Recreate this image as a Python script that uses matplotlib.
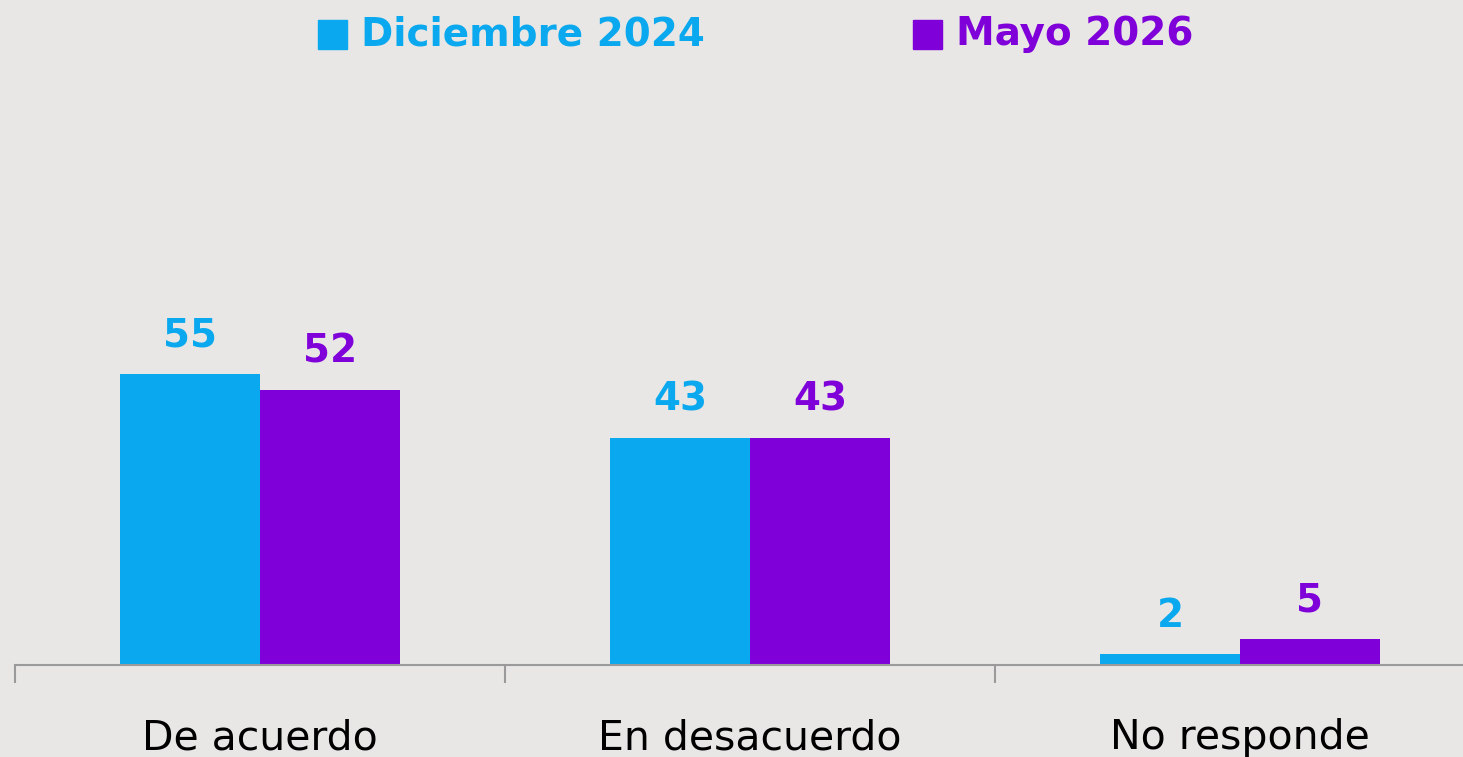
import matplotlib.pyplot as plt
import numpy as np

categories = ['De acuerdo', 'En desacuerdo', 'No responde']
dic_2024 = [55, 43, 2]
may_2026 = [52, 43, 5]
series_names = ['Diciembre 2024', 'Mayo 2026']

blue = '#0AA8EE'
purple = '#7F00D9'
bg = '#E8E7E5'
grey = '#9A9A9A'

plt.rcParams['font.family'] = ['DejaVu Sans']

fig = plt.figure(figsize=(14.63, 7.57), dpi=100)
fig.patch.set_facecolor(bg)
# axes: from x=15px to right edge, baseline 92px above bottom
ax = fig.add_axes([15 / 1463, 92 / 757, 1 - 15 / 1463, 665 / 757])
ax.set_facecolor(bg)

x = np.arange(len(categories))
w = 0.2857
b1 = ax.bar(x - w / 2, dic_2024, w, color=blue)
b2 = ax.bar(x + w / 2, may_2026, w, color=purple)

ax.set_xlim(-0.5, -0.5 + 1448 / 490)
ax.set_ylim(0, 665 / 5.29)

for rects, vals, c in [(b1, dic_2024, blue), (b2, may_2026, purple)]:
    for r, v in zip(rects, vals):
        ax.annotate(str(v), (r.get_x() + r.get_width() / 2, v),
                    xytext=(0, 19.5), textcoords='offset points',
                    ha='center', va='baseline', fontsize=28,
                    fontweight='bold', color=c)

for i, cat in enumerate(categories):
    ax.annotate(cat, (i, 0), xytext=(0, -60.5), textcoords='offset points',
                ha='center', va='baseline', fontsize=29.5, color='black')

for s in ['top', 'right', 'left']:
    ax.spines[s].set_visible(False)
ax.spines['bottom'].set_color(grey)
ax.spines['bottom'].set_linewidth(1.5)
ax.set_yticks([])
ax.set_xticks([-0.5, 0.5, 1.5])
ax.set_xticklabels([])
ax.tick_params(axis='x', length=13, width=1.5, color=grey)

# legend drawn by hand in figure pixels
def legend_item(x0, label, color):
    fig.patches.append(plt.Rectangle((x0 / 1463, 1 - 49 / 757), 29 / 1463, 29 / 757,
                                     transform=fig.transFigure, color=color))
    fig.text((x0 + 43) / 1463, 1 - 45 / 757, label, fontsize=28,
             fontweight='bold', color=color, va='baseline', ha='left')

legend_item(318, series_names[0], blue)
legend_item(913, series_names[1], purple)

fig.savefig('out.png', dpi=100, facecolor=bg)
